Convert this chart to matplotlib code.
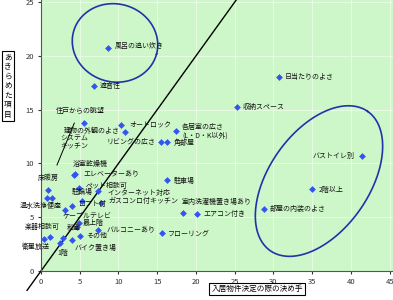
"""
Scatter of housing features: deciding factor vs. given-up item
"""

import numpy as np
import matplotlib
matplotlib.use('Agg')
import matplotlib.pyplot as plt

plt.rcParams['font.family'] = ['Noto Sans CJK JP', 'DejaVu Sans']

# feature names, deciding factor (x) and given-up item (y)
names = ['風呂の追い炊き', '遮音性', '住戸からの眺望', 'オートロック', '建物の外観のよさ',
         '各居室の広さ\n(L・D・K以外)', 'リビングの広さ', '角部屋', '日当たりのよさ',
         '収納スペース', 'バストイレ別', '2階以上', '部屋の内装のよさ', 'エアコン付き',
         '室内洗濯機置き場あり', '駐車場', 'フローリング', 'エレベーターあり', '浴室乾燥機',
         'ペット相談可', '駐輪場', 'インターネット対応', 'ガスコンロ付キッチン', 'ロフト付',
         '温水洗浄便座', '床暖房', '', '', '最上階', 'ケーブルテレビ', 'バルコニーあり',
         'その他', '和室', 'バイク置き場', '楽器相談可', '衛星放送', '1階']
decide = [8.65, 6.84, 5.55, 10.32, 10.84, 17.42, 15.48, 16.26, 30.71, 25.29, 41.42,
          34.97, 28.77, 20.13, 18.32, 16.26, 15.61, 4.39, 4.26, 4.90, 5.29, 7.35, 7.74,
          4.00, 3.10, 0.90, 0.77, 1.42, 4.90, 4.65, 7.35, 5.03, 4.00, 2.84, 1.16, 0.39, 2.45]
give_up = [20.72, 17.19, 13.75, 13.57, 12.92, 13.01, 11.99, 11.99, 18.03, 15.24, 10.69,
           7.62, 5.76, 5.30, 5.39, 8.46, 3.53, 9.01, 8.92, 7.71, 6.51, 7.43, 6.32,
           6.04, 5.67, 7.53, 6.78, 6.78, 4.46, 4.09, 3.81, 3.25, 2.88, 3.07, 3.16, 2.97, 2.60]

# label placement: pixel offset from the point and alignment
label_pos = {
    '住戸からの眺望': (-28, 12, 'left'),
    '建物の外観のよさ': (-5, 1, 'right'),
    'リビングの広さ': (-5, 1, 'right'),
    'バストイレ別': (-7, 0, 'right'),
    '室内洗濯機置き場あり': (-1, 11, 'left'),
    '浴室乾燥機': (-1, 11, 'left'),
    '駐輪場': (-10, 9, 'left'),
    'エレベーターあり': (8, 1, 'left'),
    'インターネット対応': (9, -2, 'left'),
    '温水洗浄便座': (-3, 4, 'right'),
    '床暖房': (0, 12, 'center'),
    '最上階': (4, 0, 'left'),
    'ケーブルテレビ': (-14, 12, 'left'),
    'バルコニーあり': (9, 1, 'left'),
    '和室': (2, 12, 'center'),
    'バイク置き場': (12, -10, 'left'),
    '楽器相談可': (10, 10, 'right'),
    '衛星放送': (6, -8, 'right'),
    '1階': (-3, -10, 'left'),
    '角部屋': (7, -1, 'left'),
    '2階以上': (7, -1, 'left'),
    '駐車場': (7, -1, 'left'),
    'フローリング': (6, -1, 'left'),
    'ペット相談可': (7, 2, 'left'),
    'ガスコンロ付キッチン': (7, 2, 'left'),
    'ロフト付': (6, 2, 'left'),
    '風呂の追い炊き': (7, 2, 'left'),
    'オートロック': (8, 1, 'left'),
}

fig = plt.figure(figsize=(3.93, 3.0), dpi=100)
ax = fig.add_axes([41 / 393, 29 / 300, 352 / 393, 271 / 300])
ax.set_facecolor('#cdf7c8')
ax.set_xlim(0, 45.42)
ax.set_ylim(0, 25.19)
ax.set_xticks(range(0, 50, 5))
ax.set_yticks(range(0, 30, 5))
ax.grid(True, color='#e6fbe2', lw=0.8)
ax.set_axisbelow(True)
ax.tick_params(labelsize=5.5, length=2, pad=3, colors='#333333')
for s in ['top', 'right']:
    ax.spines[s].set_visible(False)
for s in ['left', 'bottom']:
    ax.spines[s].set_color('#555555')
    ax.spines[s].set_linewidth(0.8)

# y = x reference line, running below the origin
ax.plot([-1.8, 25.4], [-1.8, 25.4], color='black', lw=1, clip_on=False, zorder=2)
# short leader line near the kitchen label
ax.plot([4.3, 2.06], [13.75, 9.85], color='black', lw=0.7, zorder=2)

ax.scatter(decide, give_up, marker='D', s=12, color='#3355ee', zorder=3, linewidths=0)

for n, x, y in zip(names, decide, give_up):
    if not n:
        continue
    dx, dy, ha = label_pos.get(n, (6, 0, 'left'))
    ax.annotate(n, (x, y), xytext=(dx, dy), textcoords='offset pixels',
                ha=ha, va='center', fontsize=5, color='#111111',
                annotation_clip=False, zorder=4, linespacing=1.1)

ax.text(2.45, 12.0, 'システム\nキッチン', fontsize=5, va='center', ha='left',
        color='#111111', linespacing=1.0)


def ring(cx, cy, a, b, ang):
    """ellipse around a group; centre in data units, radii in pixels"""
    t = np.linspace(0, 2 * np.pi, 300)
    r = np.radians(ang)
    px, py = ax.transData.transform((cx, cy))
    ex = px + a * np.cos(t) * np.cos(r) - b * np.sin(t) * np.sin(r)
    ey = py + a * np.cos(t) * np.sin(r) + b * np.sin(t) * np.cos(r)
    pts = ax.transData.inverted().transform(np.column_stack([ex, ey]))
    ax.plot(pts[:, 0], pts[:, 1], color='#2233aa', lw=1.2, zorder=2)


ring(9.55, 21.2, 43, 39, -15)
ring(35.87, 8.36, 85, 50, 55)

box = dict(boxstyle='square,pad=0.35', fc='white', ec='black', lw=0.8)
fig.text(8 / 393, 1 - 86 / 300, '\n'.join('あきらめた項目'), fontsize=5.5,
         ha='center', va='center', linespacing=1.25, bbox=box)
fig.text(257 / 393, 1 - 289 / 300, '入居物件決定の際の決め手', fontsize=5.5,
         ha='center', va='center',
         bbox=dict(boxstyle='square,pad=0.3', fc='white', ec='black', lw=0.8))

fig.savefig('out.png', dpi=100)
